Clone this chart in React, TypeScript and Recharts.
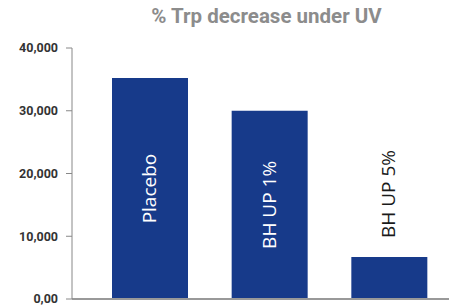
import { Bar, BarChart, LabelList, XAxis, YAxis } from 'recharts';

const categories = ['Placebo', 'BH UP 1%', 'BH UP 5%'];
const values = [35200, 30000, 6700];
const yTicks = [0, 10000, 20000, 30000, 40000];
const yTickLabels = ['0,00', '10,000', '20,000', '30,000', '40,000'];

const data = categories.map((name, i) => ({ name, value: values[i] }));

const BarLabel = (props: any) => {
  const { x, y, width, height, index, value } = props;
  const cx = x + width / 2 + 6;
  if (index === 2) {
    const sy = y - 19;
    return (
      <text
        x={cx}
        y={sy}
        transform={`rotate(-90 ${cx} ${sy})`}
        textAnchor="start"
        fill="#1a1a1a"
        fontFamily="'Open Sans', sans-serif"
        fontSize={19}
      >
        {value}
      </text>
    );
  }
  const cy = y + height / 2;
  return (
    <text
      x={cx}
      y={cy}
      transform={`rotate(-90 ${cx} ${cy})`}
      textAnchor="middle"
      fill="#ffffff"
      fontFamily="'Open Sans', sans-serif"
      fontSize={19}
    >
      {value}
    </text>
  );
};

export default function App() {
  return (
    <div style={{ position: 'absolute', left: 0, top: 0, width: 449, height: 305, background: '#fff' }}>
      <div
        style={{
          position: 'absolute',
          left: 0,
          width: 449,
          textAlign: 'center',
          paddingLeft: 84,
          boxSizing: 'border-box',
          top: 4,
          fontFamily: "'Roboto', sans-serif",
          fontWeight: 'bold',
          fontSize: 20.5,
          color: '#8c8c8c',
        }}
      >
        % Trp decrease under UV
      </div>
      <BarChart
        width={449}
        height={305}
        data={data}
        margin={{ top: 48, right: 0, bottom: 5, left: 0 }}
        barCategoryGap={0}
      >
        <XAxis
          dataKey="name"
          height={1}
          tick={false}
          tickLine={false}
          axisLine={{ stroke: '#999999', strokeWidth: 2 }}
          padding={{ left: 18, right: 0 }}
        />
        <YAxis
          width={72}
          domain={[0, 40000]}
          ticks={yTicks}
          interval={0}
          tickFormatter={(v: number) => yTickLabels[yTicks.indexOf(v)]}
          tickSize={6}
          tickMargin={8}
          axisLine={{ stroke: '#888888' }}
          tickLine={{ stroke: '#888888' }}
          tick={{ fill: '#333333', fontSize: 12.5, fontWeight: 'bold', fontFamily: "'Roboto', sans-serif" }}
        />
        <Bar dataKey="value" fill="#173a8a" barSize={76} isAnimationActive={false}>
          <LabelList dataKey="name" content={BarLabel} />
        </Bar>
      </BarChart>
    </div>
  );
}
